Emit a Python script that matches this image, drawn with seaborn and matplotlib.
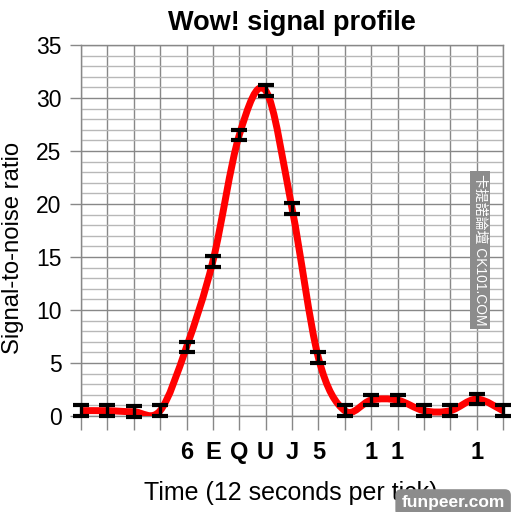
import matplotlib
matplotlib.use("Agg")
import matplotlib.pyplot as plt
from matplotlib.path import Path
from matplotlib.patches import PathPatch
from matplotlib.ticker import MultipleLocator
import numpy as np
import seaborn as sns

# values
tick_pos = list(range(17))
snr = [0.5, 0.5, 0.4, 0.5, 6.5, 14.6, 26.5, 30.7, 19.6, 5.5, 0.5, 1.5, 1.5, 0.5, 0.5, 1.6, 0.5]
err = [0.5] * 17
tick_labels = ['', '', '', '', '6', 'E', 'Q', 'U', 'J', '5', '', '1', '1', '', '', '1', '']

sns.set_theme(style="white")
plt.rcParams['font.family'] = ['Liberation Sans', 'Noto Sans CJK TC', 'DejaVu Sans']
plt.rcParams['text.color'] = 'black'
plt.rcParams['axes.labelcolor'] = 'black'
plt.rcParams['xtick.color'] = 'black'
plt.rcParams['ytick.color'] = 'black'

fig = plt.figure(figsize=(5.12, 5.12), dpi=100)
ax = fig.add_axes([81 / 512, 1 - 416 / 512, 422 / 512, 371 / 512])

# smooth curve through the points (Catmull-Rom as cubic Bezier)
pts = np.column_stack([tick_pos, snr]).astype(float)
ext = np.vstack([pts[0], pts, pts[-1]])
verts = [tuple(pts[0])]
codes = [Path.MOVETO]
for i in range(len(pts) - 1):
    p0, p1, p2, p3 = ext[i], ext[i + 1], ext[i + 2], ext[i + 3]
    c1 = p1 + (p2 - p0) / 6
    c2 = p2 - (p3 - p1) / 6
    verts += [tuple(c1), tuple(c2), tuple(p2)]
    codes += [Path.CURVE4] * 3
ax.add_patch(PathPatch(Path(verts, codes), facecolor='none', edgecolor='#ff0000',
                       lw=5, capstyle='round', zorder=3))

ax.errorbar(tick_pos, snr, yerr=err, fmt='none', ecolor='black', elinewidth=2.4,
            capsize=5.5, capthick=3, zorder=4, clip_on=False)

ax.set_xlim(0, 16)
ax.set_ylim(0, 35)
ax.yaxis.set_major_locator(MultipleLocator(5))
ax.yaxis.set_minor_locator(MultipleLocator(1))
ax.set_xticks(tick_pos)
ax.set_xticklabels(tick_labels, fontsize=17, fontweight='bold')

ax.grid(True, which='major', color='#888888', lw=1)
ax.grid(True, which='minor', axis='y', color='#b8b8b8', lw=1)
ax.set_axisbelow(True)
for s in ax.spines.values():
    s.set_color('#888888')
    s.set_linewidth(1)

ax.tick_params(axis='y', which='major', length=8, width=1, color='#888888',
               labelsize=16.5, pad=6, left=True, labelcolor='black')
ax.tick_params(axis='y', which='minor', length=0)
ax.tick_params(axis='x', which='major', length=10, width=1, color='#888888',
               pad=8, bottom=True, labelcolor='black')

ax.set_ylabel('Signal-to-noise ratio', fontsize=17.2)
ax.yaxis.set_label_coords(-0.135, 0.453)
ax.set_xlabel('Time (12 seconds per tick)', fontsize=18)
ax.xaxis.set_label_coords(0.497, -0.175)
ax.set_title('Wow! signal profile', fontsize=19.5, fontweight='bold', pad=11)

# watermarks
fig.text(0.9375, 0.512, '卡提諾論壇 CK101.COM', rotation=270, color='white', fontsize=10,
         ha='center', va='center',
         bbox=dict(boxstyle='square,pad=0.25', fc='#8c8c8c', ec='none'))
fig.text(0.885, 0.018, 'funpeer.com', color='white', fontsize=12.5, fontweight='bold',
         ha='center', va='center',
         bbox=dict(boxstyle='round,pad=0.35', fc='#8c8c8c', ec='none'))

fig.savefig('out.png', dpi=100)
